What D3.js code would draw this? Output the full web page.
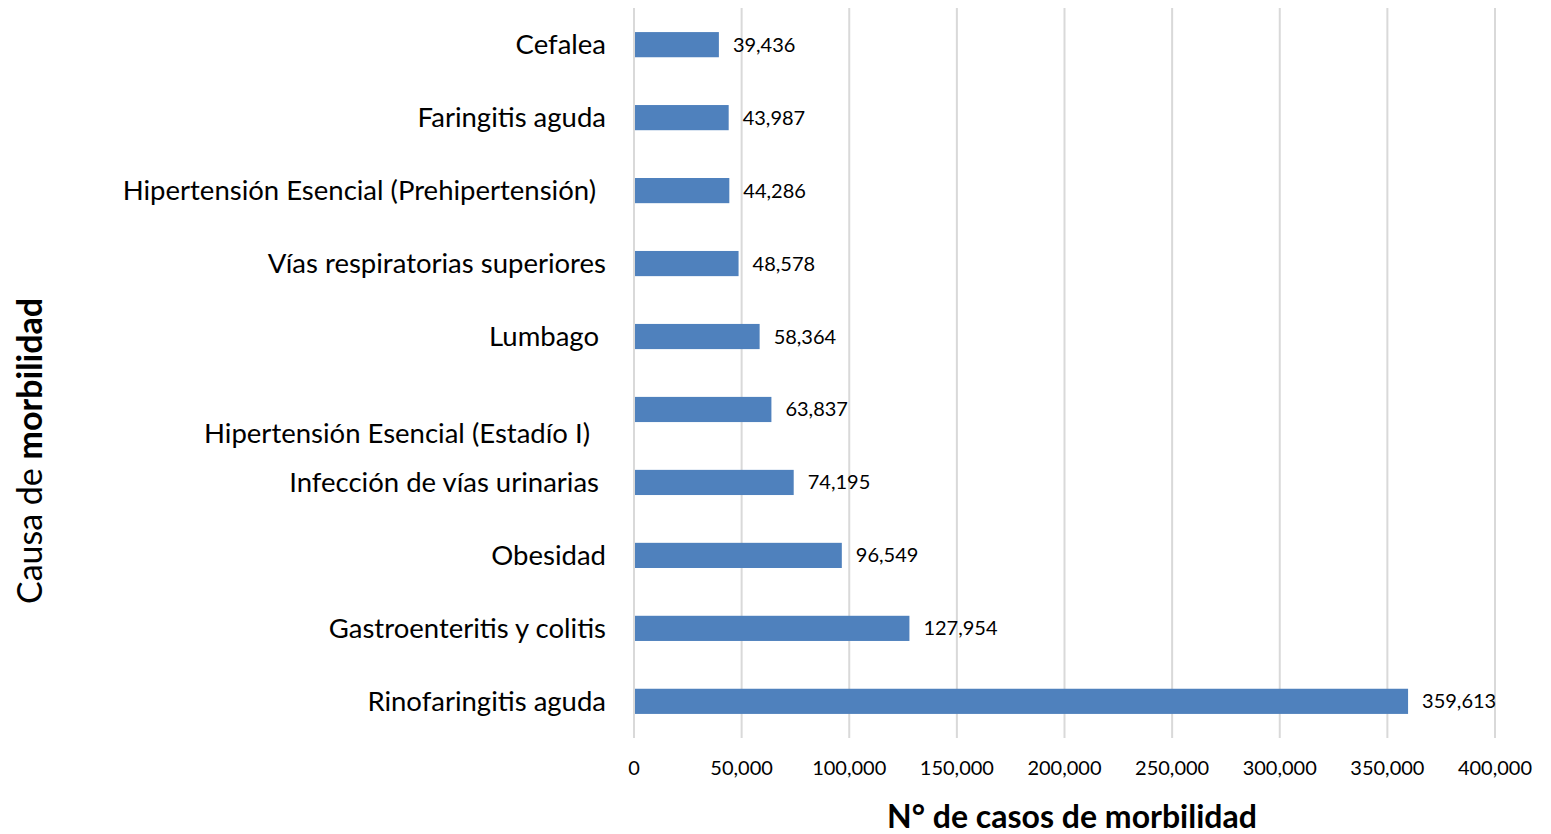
<!DOCTYPE html>
<html><head><meta charset="utf-8">
<script src="https://cdn.jsdelivr.net/npm/d3@7/dist/d3.min.js"></script>
<style>body{margin:0;background:#fff;} text{font-family:Lato, "Open Sans", sans-serif;}</style>
</head><body>
<svg id="chart" width="1551" height="834"></svg>
<script>
const categories = ["Cefalea","Faringitis aguda","Hipertensión Esencial (Prehipertensión)","Vías respiratorias superiores","Lumbago","Hipertensión Esencial (Estadío I)","Infección de vías urinarias","Obesidad","Gastroenteritis y colitis","Rinofaringitis aguda"];
const values = [39436,43987,44286,48578,58364,63837,74195,96549,127954,359613];
const xTicks = [0,50000,100000,150000,200000,250000,300000,350000,400000];
const xTitle = "N° de casos de morbilidad";

const svg = d3.select("#chart");
const mLeft = 634, mRight = 1495, mTop = 8, mBottom = 738;
const x = d3.scaleLinear().domain([0,400000]).range([mLeft,mRight]);
const y = d3.scaleBand().domain(categories).range([mTop,mBottom]).paddingInner(0.655).paddingOuter(0.33);
const fmt = d3.format(",");

// gridlines
svg.append("g").selectAll("line").data(xTicks).join("line")
  .attr("x1",d=>x(d)).attr("x2",d=>x(d)).attr("y1",mTop).attr("y2",mBottom)
  .attr("stroke","#d9d9d9").attr("stroke-width",2);

// bars
svg.append("g").selectAll("rect").data(values).join("rect")
  .attr("x",x(0)+1).attr("y",(d,i)=>y(categories[i]))
  .attr("width",d=>x(d)-x(0)-1).attr("height",y.bandwidth())
  .attr("fill","#4f81bd");

// data labels
svg.append("g").selectAll("text").data(values).join("text")
  .attr("x",d=>x(d)+14).attr("y",(d,i)=>y(categories[i])+y.bandwidth()/2)
  .attr("dy","0.35em").attr("font-size",20).attr("fill","#000")
  .text(d=>fmt(d));

// category labels
const labelShift = {"Lumbago":[-7,0],"Hipertensión Esencial (Prehipertensión)":[-10,0],"Infección de vías urinarias":[-7,0],"Hipertensión Esencial (Estadío I)":[-16,24]};
svg.append("g").selectAll("text").data(categories).join("text")
  .attr("x",d=>606+(labelShift[d]?labelShift[d][0]:0))
  .attr("y",d=>y(d)+y.bandwidth()/2+(labelShift[d]?labelShift[d][1]:0))
  .attr("dy","0.35em").attr("text-anchor","end").attr("font-size",27.5).attr("fill","#000")
  .text(d=>d);

// x tick labels
svg.append("g").selectAll("text").data(xTicks).join("text")
  .attr("x",d=>x(d)).attr("y",768).attr("dy","0.35em").attr("text-anchor","middle")
  .attr("font-size",20).attr("fill","#000").text(d=>fmt(d));

// x title
svg.append("text").attr("x",1072).attr("y",828).attr("text-anchor","middle")
  .attr("font-size",32).attr("font-weight","bold").attr("fill","#000").text(xTitle);

// y title
const yt = svg.append("text").attr("transform","translate(42,451) rotate(-90)")
  .attr("text-anchor","middle").attr("font-size",34).attr("fill","#000");
yt.append("tspan").text("Causa de ");
yt.append("tspan").attr("font-weight","bold").text("morbilidad");
</script>
</body></html>
